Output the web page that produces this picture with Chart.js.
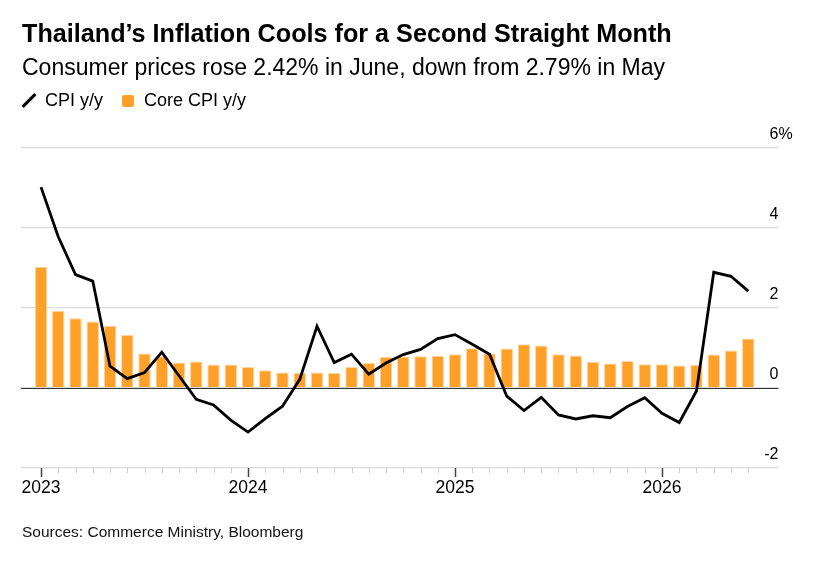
<!DOCTYPE html>
<html>
<head>
<meta charset="utf-8">
<script src="https://cdn.jsdelivr.net/npm/chart.js@4.4.1/dist/chart.umd.min.js"></script>
<style>
  html, body { margin: 0; padding: 0; background: #fff; }
  body { width: 819px; height: 563px; position: relative; overflow: hidden; font-family: "Liberation Sans", Arial, sans-serif; color: #000; }
  #wrap { position: absolute; left: 0; top: 0; width: 819px; height: 563px; }
  .title { position: absolute; left: 22px; top: 19px; font-size: 25.2px; font-weight: bold; white-space: nowrap; }
  .subtitle { position: absolute; left: 22px; top: 54px; font-size: 23px; white-space: nowrap; }
  .legend { position: absolute; left: 20px; top: 90px; font-size: 18px; white-space: nowrap; display: flex; align-items: center; }
  .slash { display: inline-block; width: 18px; height: 3px; background: #000; transform: rotate(-45deg); margin-left: 0px; margin-right: 7px; }
  .sq { display: inline-block; width: 12px; height: 12px; background: #FFA028; border-radius: 2px; margin-left: 19px; margin-right: 10px; }
  .source { position: absolute; left: 22px; top: 523px; font-size: 15.5px; white-space: nowrap; color: #111; }
</style>
</head>
<body>
<div id="wrap"><canvas id="c" width="819" height="563"></canvas></div>
<div class="title">Thailand’s Inflation Cools for a Second Straight Month</div>
<div class="subtitle">Consumer prices rose 2.42% in June, down from 2.79% in May</div>
<div class="legend"><span class="slash"></span><span>CPI y/y</span><span class="sq"></span><span>Core CPI y/y</span></div>
<div class="source">Sources: Commerce Ministry, Bloomberg</div>
<script>
// Months Jan 2023 .. Jun 2026
const months = [
  "Jan 2023","Feb 2023","Mar 2023","Apr 2023","May 2023","Jun 2023","Jul 2023","Aug 2023","Sep 2023","Oct 2023","Nov 2023","Dec 2023",
  "Jan 2024","Feb 2024","Mar 2024","Apr 2024","May 2024","Jun 2024","Jul 2024","Aug 2024","Sep 2024","Oct 2024","Nov 2024","Dec 2024",
  "Jan 2025","Feb 2025","Mar 2025","Apr 2025","May 2025","Jun 2025","Jul 2025","Aug 2025","Sep 2025","Oct 2025","Nov 2025","Dec 2025",
  "Jan 2026","Feb 2026","Mar 2026","Apr 2026","May 2026","Jun 2026"
];
const cpi = [5.02,3.78,2.83,2.67,0.54,0.23,0.38,0.89,0.30,-0.29,-0.43,-0.81,
  -1.11,-0.77,-0.46,0.21,1.54,0.63,0.84,0.34,0.62,0.83,0.96,1.23,
  1.33,1.09,0.84,-0.21,-0.57,-0.24,-0.68,-0.78,-0.70,-0.75,-0.47,-0.25,
  -0.64,-0.87,-0.08,2.89,2.79,2.42];
const core = [3.03,1.93,1.74,1.66,1.55,1.32,0.86,0.79,0.63,0.66,0.58,0.58,
  0.52,0.44,0.38,0.37,0.38,0.37,0.52,0.62,0.77,0.78,0.79,0.80,
  0.84,0.99,0.86,0.98,1.09,1.06,0.84,0.81,0.65,0.61,0.67,0.59,
  0.59,0.56,0.57,0.83,0.93,1.23];
const yearTickIdx = [0, 12, 24, 36];
const yearLabels = ["2023", "2024", "2025", "2026"];
const yTicks = [-2, 0, 2, 4, 6];

const cpiPts = cpi.map((v, i) => ({ x: i, y: v }));
const corePts = core.map((v, i) => ({ x: i, y: v }));

const decor = {
  id: 'decor',
  afterDatasetDraw(chart, args) {
    if (args.index !== 1) return; // after bars
    const ctx = chart.ctx, y = chart.scales.y, a = chart.chartArea;
    const py = Math.round(y.getPixelForValue(0)) + 0.5;
    ctx.save();
    ctx.strokeStyle = '#333';
    ctx.lineWidth = 1.2;
    ctx.beginPath(); ctx.moveTo(a.left, py); ctx.lineTo(a.right, py); ctx.stroke();
    ctx.restore();
  },
  afterDraw(chart) {
    const ctx = chart.ctx, x = chart.scales.x, y = chart.scales.y, a = chart.chartArea;
    ctx.save();
    // y labels
    ctx.font = '16px "Liberation Sans", Arial, sans-serif';
    ctx.fillStyle = '#000';
    ctx.textBaseline = 'middle';
    yTicks.forEach(v => {
      const py = y.getPixelForValue(v) - 13;
      ctx.textAlign = 'right';
      ctx.fillText(String(v), a.right, py);
      if (v === yTicks[yTicks.length - 1]) {
        ctx.textAlign = 'left';
        ctx.fillText('%', a.right, py);
      }
    });
    // x ticks
    const by = Math.round(y.getPixelForValue(-2));
    months.forEach((m, i) => {
      const px = Math.round(x.getPixelForValue(i)) + 0.5;
      const isYear = yearTickIdx.includes(i);
      ctx.strokeStyle = isYear ? '#444' : '#ccc';
      ctx.lineWidth = isYear ? 1.5 : 1;
      ctx.beginPath(); ctx.moveTo(px, by); ctx.lineTo(px, by + (isYear ? 9 : 5)); ctx.stroke();
    });
    ctx.font = '17.5px "Liberation Sans", Arial, sans-serif';
    ctx.textAlign = 'center';
    ctx.textBaseline = 'middle';
    ctx.fillStyle = '#000';
    yearTickIdx.forEach((idx, k) => {
      ctx.fillText(yearLabels[k], x.getPixelForValue(idx), by + 20);
    });
    ctx.restore();
  }
};

new Chart(document.getElementById('c'), {
  type: 'bar',
  data: {
    datasets: [
      {
        type: 'line', label: 'CPI y/y', data: cpiPts,
        borderColor: '#000', borderWidth: 2.8, pointRadius: 0, tension: 0,
        borderJoinStyle: 'miter', order: 0
      },
      {
        type: 'bar', label: 'Core CPI y/y', data: corePts,
        backgroundColor: '#FFA028', borderColor: 'rgba(255,214,160,1)', borderWidth: { top: 1, left: 1, right: 1, bottom: 0 },
        barPercentage: 0.9, categoryPercentage: 0.8, order: 1
      }
    ]
  },
  options: {
    responsive: false,
    animation: false,
    devicePixelRatio: 1,
    layout: { padding: { left: 21, right: 40.5, top: 148, bottom: 95.3 } },
    plugins: { legend: { display: false }, tooltip: { enabled: false }, title: { display: false } },
    scales: {
      x: {
        type: 'linear', min: -1.16, max: 42.754, display: false, offset: false,
        grid: { display: false, offset: false }
      },
      y: {
        type: 'linear', min: -2, max: 6, display: true,
        ticks: { display: false, stepSize: 2 },
        border: { display: false },
        grid: { drawTicks: false, color: '#dcdcdc', lineWidth: 1.2 }
      }
    }
  },
  plugins: [decor]
});
</script>
</body>
</html>
